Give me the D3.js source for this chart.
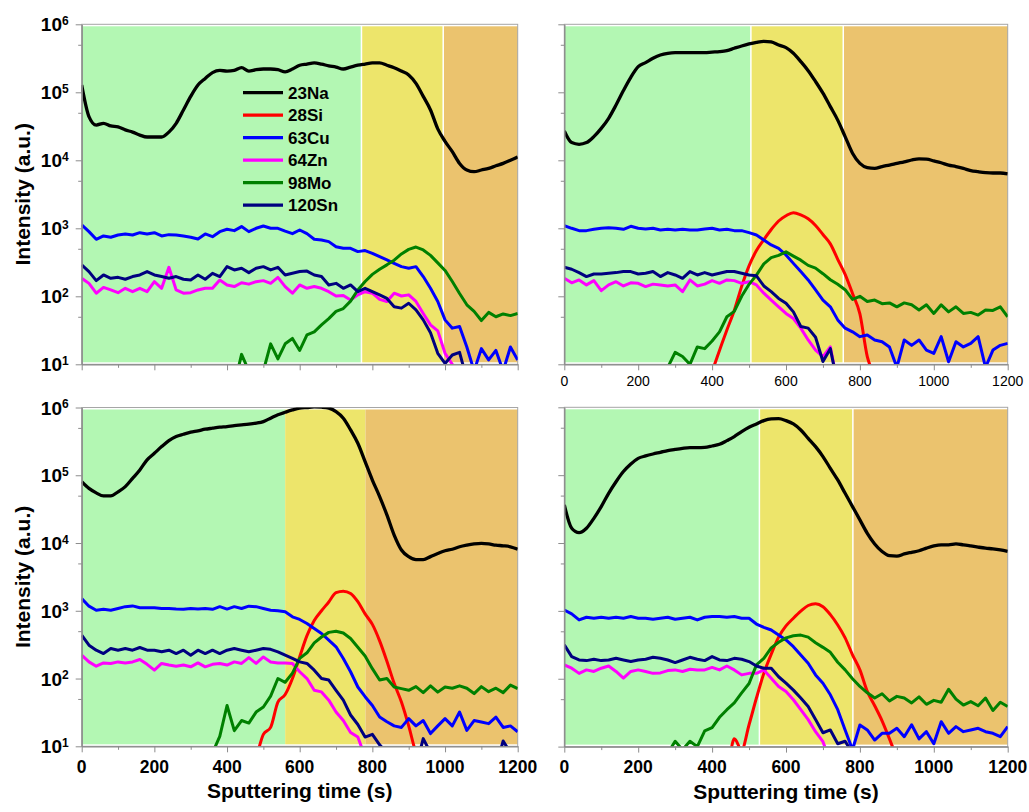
<!DOCTYPE html>
<html>
<head>
<meta charset="utf-8">
<script src="https://cdn.jsdelivr.net/npm/d3@7"></script>
<style>
  body { margin: 0; background: #fff; }
  svg text { font-family: "Liberation Sans", Arial, sans-serif; fill: #000; }
</style>
</head>
<body>
<svg id="chart" width="1029" height="812"></svg>
<script>
// sputtering time grid (s), every series below is sampled on it
var times = d3.range(0, 1201, 20)

// panel 1 (top left)
var na1 = [128000, 44000, 33000, 35000, 32000, 31000, 28000, 26000, 23500, 22000,
  22000, 22000, 26000, 35000, 55000, 87000, 128000, 160000, 195000, 210000,
  205000, 210000, 230000, 205000, 215000, 220000, 220000, 215000, 200000, 220000,
  250000, 260000, 270000, 260000, 245000, 235000, 220000, 235000, 250000, 260000,
  270000, 270000, 250000, 230000, 205000, 180000, 135000, 87000, 55000, 29000,
  19000, 13400, 9000, 7200, 6800, 7200, 7600, 8300, 9000, 10000,
  11200]
var si1 = []
var cu1 = [1120, 893, 689, 771, 738, 798, 826, 798, 863, 826,
  863, 771, 807, 798, 771, 738, 697, 826, 754, 893,
  967, 924, 1060, 893, 1000, 1080, 1000, 1000, 910, 835,
  945, 835, 690, 673, 637, 537, 508, 508, 454, 470,
  429, 383, 342, 305, 273, 258, 273, 195, 131, 84,
  45, 34, 36, 18, 8, 17, 11.6, 16, 8, 18,
  11.6]
var zn1 = [184, 155, 111, 135, 124, 113, 131, 117, 131, 117,
  164, 131, 267, 124, 111, 113, 124, 131, 131, 174,
  147, 139, 158, 151, 164, 170, 155, 190, 139, 111,
  147, 131, 139, 131, 117, 101, 103, 88, 105, 117,
  111, 90, 84, 111, 101, 105, 84, 56, 38, 31,
  14.5, 10, 6, 5, 5, 5, 5, 5, 5, 5,
  5]
var mo1 = [5, 5, 5, 5, 5, 5, 5, 5, 5, 5,
  5, 5, 5, 5, 5, 5, 5, 5, 5, 5,
  5, 5, 14, 8, 9, 8, 20, 12, 20, 24,
  16, 27, 30, 38, 47, 60, 66, 85, 124, 165,
  210, 250, 290, 340, 420, 490, 530, 480, 400, 310,
  240, 165, 110, 75, 60, 44, 58, 50, 55, 52,
  56]
var sn1 = [289, 231, 170, 206, 184, 190, 178, 195, 206, 231,
  206, 195, 184, 195, 178, 174, 206, 178, 218, 195,
  273, 244, 258, 223, 258, 273, 244, 267, 206, 218,
  231, 235, 206, 195, 147, 155, 131, 147, 117, 131,
  117, 105, 93, 70, 67, 79, 63, 45, 29, 14.5,
  10.3, 13.7, 15, 6, 5, 5, 5, 5, 5, 5,
  5]

// panel 2 (top right)
var na2 = [27000, 18200, 17200, 18200, 22300, 29500, 41500, 65000, 106000, 166000,
  238000, 273000, 316000, 354000, 375000, 383000, 383000, 383000, 383000, 383000,
  390000, 396000, 410000, 444000, 480000, 514000, 543000, 562000, 550000, 497000,
  454000, 375000, 283000, 208000, 144000, 97000, 61500, 39000, 22300, 12700,
  9000, 7800, 7600, 8100, 8500, 9000, 9500, 10100, 10500, 10400,
  9800, 9200, 8500, 8100, 7600, 7050, 6800, 6600, 6500, 6500,
  6300]
var si2 = [5, 5, 5, 5, 5, 5, 5, 5, 5, 5,
  5, 5, 5, 5, 5, 5, 5, 5, 5, 5,
  8, 16, 32, 62, 140, 280, 470, 680, 960, 1280,
  1530, 1700, 1580, 1380, 1100, 810, 590, 350, 210, 110,
  55, 13, 7, 5, 5, 5, 5, 5, 5, 5,
  5, 5, 5, 5, 5, 5, 5, 5, 5, 5,
  5]
var cu2 = [1090, 1000, 924, 924, 967, 1000, 1020, 1000, 967, 1070,
  1000, 980, 1000, 945, 967, 945, 967, 945, 945, 980,
  1000, 945, 967, 924, 924, 863, 798, 673, 569, 508,
  405, 305, 231, 174, 124, 88, 70, 45, 34, 30,
  25.5, 27, 22.8, 21.5, 18, 9, 22.8, 19, 22.8, 16.2,
  14.5, 25.5, 10.9, 21.5, 18, 20.3, 25.5, 9, 16.2, 19,
  20.3]
var zn2 = [184, 158, 174, 147, 170, 121, 147, 164, 142, 158,
  155, 139, 151, 147, 142, 147, 117, 174, 142, 151,
  170, 155, 174, 170, 155, 164, 147, 111, 88, 70,
  56, 47, 34, 22.8, 16.2, 13, 18, 5, 5, 5,
  5, 5, 5, 5, 5, 5, 5, 5, 5, 5,
  5, 5, 5, 5, 5, 5, 5, 5, 5, 5,
  5]
var mo2 = [5, 5, 5, 5, 5, 5, 5, 5, 5, 5,
  5, 5, 5, 5, 9, 15, 13, 10, 18, 17,
  22, 30, 50, 60, 100, 150, 205, 300, 370, 400,
  450, 390, 340, 285, 260, 215, 175, 150, 125, 90,
  100, 84, 88, 78, 80, 70, 80, 75, 63, 75,
  56, 75, 59, 70, 56, 58, 53, 63, 62, 70,
  50]
var sn2 = [267, 250, 223, 195, 213, 213, 218, 223, 231, 231,
  213, 218, 231, 195, 223, 206, 184, 231, 206, 223,
  206, 218, 231, 231, 218, 206, 200, 142, 117, 93,
  79, 59, 36, 34, 25, 11, 17, 5, 5, 5,
  5, 5, 5, 5, 5, 5, 5, 5, 5, 5,
  5, 5, 5, 5, 5, 5, 5, 5, 5, 5,
  5]

// panel 3 (bottom left)
var na3 = [80500, 64000, 55000, 49500, 49500, 57000, 68000, 90000, 120000, 169000,
  211000, 265000, 325000, 373000, 403000, 432000, 452000, 478000, 495000, 512000,
  524000, 542000, 554000, 567000, 587000, 620000, 696000, 780000, 850000, 920000,
  980000, 1000000, 1020000, 1010000, 980000, 870000, 696000, 468000, 297000, 159000,
  85000, 48400, 26000, 13100, 7900, 6300, 5700, 5700, 6300, 7000,
  7700, 8100, 8800, 9300, 9700, 9900, 9700, 9300, 9100, 8800,
  8100]
var si3 = [5, 5, 5, 5, 5, 5, 5, 5, 5, 5,
  5, 5, 5, 5, 5, 5, 5, 5, 5, 5,
  5, 5, 5, 5, 7, 15, 19, 45, 58, 100,
  210, 430, 720, 1000, 1350, 1850, 1950, 1800, 1360, 900,
  630, 360, 180, 85, 45, 20, 8, 5, 5, 5,
  5, 5, 5, 5, 5, 5, 5, 5, 5, 5,
  5]
var cu3 = [1520, 1170, 1020, 1050, 1020, 1080, 1150, 1180, 1110, 1110,
  1110, 1080, 1080, 1060, 1050, 1080, 1060, 1080, 1050, 1150,
  1060, 1150, 1080, 1170, 1150, 1080, 1020, 1000, 967, 815,
  745, 650, 548, 462, 369, 294, 198, 126, 75, 54,
  40, 27, 23, 20, 19, 25.6, 20, 24, 15.4, 20,
  25.6, 20, 32, 17.2, 24, 22.9, 21.6, 27, 19, 20,
  16.4]
var zn3 = [221, 176, 152, 170, 167, 176, 170, 176, 191, 162,
  133, 167, 158, 152, 158, 149, 170, 149, 162, 167,
  158, 176, 167, 204, 167, 208, 176, 170, 170, 167,
  126, 100, 67, 63.5, 48, 32, 24, 16, 13.7, 7,
  5, 5, 5, 5, 5, 5, 5, 5, 5, 5,
  5, 5, 5, 5, 5, 5, 5, 5, 5, 5,
  5]
var mo3 = [5, 5, 5, 5, 5, 5, 5, 5, 5, 5,
  5, 5, 5, 5, 5, 5, 9, 5, 8, 14,
  40, 17, 24, 22, 32, 38, 55, 100, 88, 120,
  198, 240, 335, 410, 480, 500, 470, 390, 290, 215,
  140, 95, 100, 75, 71, 67, 76, 62, 78, 63,
  75, 72, 78, 72, 60, 76, 64, 72, 62, 80,
  71]
var sn3 = [437, 311, 262, 234, 277, 262, 277, 262, 287, 262,
  262, 248, 262, 234, 262, 221, 262, 234, 262, 234,
  262, 277, 262, 248, 262, 277, 270, 248, 221, 198,
  176, 167, 133, 100, 95, 67, 48, 29, 21, 13.7,
  15, 10.5, 8, 5, 5, 5, 5, 13, 8, 5,
  5, 5, 5, 5, 5, 5, 5, 5, 12, 8,
  5]

// panel 4 (bottom right)
var na4 = [36400, 16500, 14200, 16500, 23100, 34400, 54000, 80000, 113000, 146000,
  177000, 192000, 205000, 217000, 230000, 240000, 249000, 255000, 255000, 257000,
  269000, 285000, 323000, 370000, 438000, 507000, 568000, 636000, 673000, 680000,
  636000, 568000, 463000, 349000, 263000, 188000, 126000, 85000, 54000, 34400,
  21900, 13900, 9700, 7500, 6500, 6400, 6900, 7300, 7700, 8400,
  9050, 9400, 9400, 9700, 9400, 9050, 8700, 8400, 8200, 7900,
  7500]
var si4 = [5, 5, 5, 5, 5, 5, 5, 5, 5, 5,
  5, 5, 5, 5, 5, 5, 5, 5, 5, 5,
  5, 5, 5, 13, 9, 21, 52, 120, 230, 410,
  600, 780, 990, 1200, 1270, 1150, 880, 620, 400, 225,
  135, 65, 40, 24, 13, 7, 5, 5, 5, 5,
  5, 5, 5, 5, 5, 5, 5, 5, 5, 5,
  5]
var cu4 = [1030, 902, 735, 805, 778, 805, 778, 805, 778, 824,
  778, 778, 752, 778, 805, 752, 778, 805, 735, 805,
  824, 824, 805, 824, 778, 778, 640, 573, 523, 442,
  373, 297, 224, 169, 114, 86, 58, 35, 17.6, 9,
  20.8, 17.6, 12.5, 15.7, 15.7, 18.6, 14, 21, 13, 16.6,
  11, 23.3, 15.7, 19.7, 16.6, 17.6, 18.6, 16.6, 15.7, 14,
  19.7]
var zn4 = [160, 143, 120, 135, 128, 143, 154, 128, 102, 128,
  135, 128, 120, 122, 132, 135, 128, 138, 135, 135,
  147, 135, 154, 135, 114, 120, 120, 135, 102, 77,
  65, 49, 35, 25, 16.6, 11.8, 6, 5, 5, 5,
  5, 5, 5, 5, 5, 5, 5, 5, 5, 5,
  5, 5, 5, 5, 5, 5, 5, 5, 5, 5,
  5]
var mo4 = [5, 5, 5, 5, 5, 5, 5, 5, 5, 5,
  5, 5, 5, 5, 8, 12, 9, 12, 10, 17,
  19, 27, 35, 44, 62, 85, 160, 200, 285, 345,
  400, 430, 440, 410, 340, 290, 245, 175, 135, 100,
  77, 62, 52, 60, 47, 55, 52, 44, 54, 42,
  48, 45, 70, 50, 41, 46, 40, 52, 34, 45,
  39]
var sn4 = [315, 212, 189, 185, 194, 185, 189, 200, 189, 179,
  189, 194, 207, 200, 189, 173, 189, 207, 194, 185,
  212, 189, 185, 200, 194, 179, 154, 143, 143, 107,
  86, 68, 52, 39, 25, 16, 17.6, 11, 12, 8,
  5, 5, 5, 5, 5, 5, 5, 5, 5, 5,
  5, 5, 5, 5, 5, 5, 5, 5, 5, 5,
  5]

var seriesNames = ["23Na", "28Si", "63Cu", "64Zn", "98Mo", "120Sn"]
var seriesColors = ["#000000", "#ff0000", "#0000ff", "#ff00ff", "#008000", "#000080"]

// zone boundaries (s) for green / yellow / orange bands
var zones1 = [0, 770, 995, 1200]
var zones2 = [0, 505, 755, 1200]
var zones3 = [0, 560, 781, 1200]
var zones4 = [0, 528, 781, 1200]
var zoneColors = ["#b3f7b3", "#ede56b", "#ebc36e"]

var yTicks = [1e1, 1e2, 1e3, 1e4, 1e5, 1e6]
var yMinorTicks = [5e1, 5e2, 5e3, 5e4, 5e5]
var xTicks = [0, 200, 400, 600, 800, 1000, 1200]
var xMinorTicks = [100, 300, 500, 700, 900, 1100]

window.ProfilePanel = class {
  constructor(svg, opts) {
    this.o = opts
    this.x = d3.scaleLinear().domain([0, 1200]).range([opts.left, opts.right])
    this.y = d3.scaleLog().domain([10, 1e6]).range([opts.bottom, opts.top])
    this.g = svg.append("g").attr("class", "panel " + opts.id)
  }

  draw() {
    var that = this
    var o = this.o

    this.g.selectAll("rect.zone")
      .data(d3.pairs(o.zones))
      .enter()
      .append("rect")
      .attr("class", "zone")
      .attr("x", function(d) { return that.x(d[0]) })
      .attr("width", function(d) { return that.x(d[1]) - that.x(d[0]) })
      .attr("y", o.top + 2)
      .attr("height", o.bottom - o.top - 4)
      .attr("fill", function(d, i) { return zoneColors[i] })

    if (o.zoneGaps) {
      this.g.selectAll("line.gap")
        .data(o.zones.slice(1, -1))
        .enter()
        .append("line")
        .attr("x1", function(d) { return that.x(d) })
        .attr("x2", function(d) { return that.x(d) })
        .attr("y1", o.top)
        .attr("y2", o.bottom)
        .attr("stroke", "#fff")
        .attr("stroke-width", 1.5)
    }

    this.g.append("rect")
      .attr("x", o.left)
      .attr("y", o.top)
      .attr("width", o.right - o.left)
      .attr("height", o.bottom - o.top)
      .attr("fill", "none")
      .attr("stroke", "#a6a6a6")
      .attr("stroke-width", 1)

    this.g.append("clipPath")
      .attr("id", "clip-" + o.id)
      .append("rect")
      .attr("x", o.left)
      .attr("y", o.top)
      .attr("width", o.right - o.left)
      .attr("height", o.bottom - o.top)

    var lines = this.g.append("g")
      .attr("clip-path", "url(#clip-" + o.id + ")")

    o.series.forEach(function(vals, k) {
      if (!vals.length) return
      var line = d3.line()
        .x(function(v, i) { return that.x(times[i]) })
        .y(function(v) { return that.y(v) })
        .curve(k < 2 ? d3.curveMonotoneX : d3.curveLinear)
      lines.append("path")
        .attr("d", line(vals))
        .attr("fill", "none")
        .attr("stroke", seriesColors[k])
        .attr("stroke-width", k === 0 ? 3.3 : 3)
        .attr("stroke-linejoin", "round")
    })

    this.axis(d3.axisLeft(this.y).tickValues(yTicks).tickSize(6), "translate(" + o.left + ",0)")
    this.axis(d3.axisLeft(this.y).tickValues(yMinorTicks).tickSize(3.5), "translate(" + o.left + ",0)")
    this.axis(d3.axisBottom(this.x).tickValues(xTicks).tickSize(6), "translate(0," + o.bottom + ")")
    this.axis(d3.axisBottom(this.x).tickValues(xMinorTicks).tickSize(3.5), "translate(0," + o.bottom + ")")

    if (o.yLabels) {
      var lab = this.g.selectAll("text.ylab")
        .data(yTicks)
        .enter()
        .append("text")
        .attr("class", "ylab")
        .attr("x", o.left - 13)
        .attr("y", function(d) { return that.y(d) + 7 })
        .attr("text-anchor", "end")
        .attr("font-weight", "bold")
        .attr("font-size", 19)
      lab.append("tspan").text("10")
      lab.append("tspan")
        .attr("dy", -6.5)
        .attr("font-size", 12)
        .text(function(d) { return Math.round(Math.log10(d)) })

      this.g.append("text")
        .attr("transform", "translate(30," + (o.top + o.bottom) / 2 + ") rotate(-90)")
        .attr("text-anchor", "middle")
        .attr("font-weight", "bold")
        .attr("font-size", 21)
        .text("Intensity (a.u.)")
    }

    if (o.xLabels) {
      this.g.selectAll("text.xlab")
        .data(xTicks)
        .enter()
        .append("text")
        .attr("class", "xlab")
        .attr("x", function(d) { return that.x(d) })
        .attr("y", o.bottom + (o.xLabels === "bold" ? 26.5 : 21.7))
        .attr("text-anchor", "middle")
        .attr("font-weight", o.xLabels === "bold" ? "bold" : "normal")
        .attr("font-size", o.xLabels === "bold" ? 17.5 : 14)
        .text(function(d) { return d })
    }

    if (o.xTitle) {
      this.g.append("text")
        .attr("x", (o.left + o.right) / 2)
        .attr("y", o.bottom + 52)
        .attr("text-anchor", "middle")
        .attr("font-weight", "bold")
        .attr("font-size", 21)
        .text("Sputtering time (s)")
    }
  }

  axis(gen, transform) {
    var a = this.g.append("g")
      .attr("transform", transform)
      .call(gen.tickSizeOuter(0).tickFormat(""))
    a.select(".domain").attr("stroke", "#8c8c8c")
    a.selectAll(".tick line").attr("stroke", "#8c8c8c")
  }

  legend(x, y) {
    var rows = this.g.append("g").attr("class", "legend")
      .selectAll("g")
      .data(seriesNames)
      .enter()
      .append("g")
      .attr("transform", function(d, i) { return "translate(" + x + "," + (y + i * 22.5) + ")" })
    rows.append("line")
      .attr("x1", 0)
      .attr("x2", 40)
      .attr("stroke", function(d, i) { return seriesColors[i] })
      .attr("stroke-width", 3.3)
    rows.append("text")
      .attr("x", 45)
      .attr("dy", "0.36em")
      .attr("font-weight", "bold")
      .attr("font-size", 17)
      .text(function(d) { return d })
  }
}

var svg = d3.select("#chart")

var p1 = new ProfilePanel(svg, {
  id: "p1", left: 81.7, right: 517.7, top: 24.3, bottom: 364.3,
  zones: zones1, zoneGaps: true, yLabels: true, xLabels: null,
  series: [na1, si1, cu1, zn1, mo1, sn1]
})
var p2 = new ProfilePanel(svg, {
  id: "p2", left: 564.3, right: 1007.7, top: 24.3, bottom: 364.3,
  zones: zones2, zoneGaps: true, yLabels: false, xLabels: "plain",
  series: [na2, si2, cu2, zn2, mo2, sn2]
})
var p3 = new ProfilePanel(svg, {
  id: "p3", left: 81.7, right: 517.7, top: 407.5, bottom: 746.3,
  zones: zones3, zoneGaps: false, yLabels: true, xLabels: "bold", xTitle: true,
  series: [na3, si3, cu3, zn3, mo3, sn3]
})
var p4 = new ProfilePanel(svg, {
  id: "p4", left: 564.3, right: 1007.7, top: 407.3, bottom: 746.6,
  zones: zones4, zoneGaps: true, yLabels: false, xLabels: "bold", xTitle: true,
  series: [na4, si4, cu4, zn4, mo4, sn4]
})

p1.draw()
p2.draw()
p3.draw()
p4.draw()
p1.legend(243, 92.7)
</script>
</body>
</html>
